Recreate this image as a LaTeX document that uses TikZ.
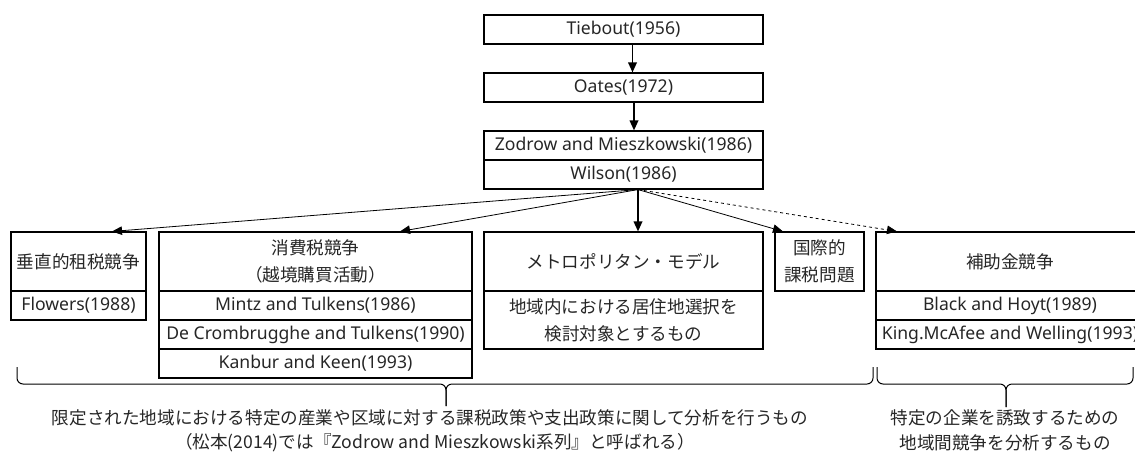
\documentclass[tikz,border=0pt]{standalone}
\usepackage{fontspec}
\setmainfont{Noto Sans}
\newfontfamily\jp{Noto Sans CJK JP}
\usetikzlibrary{arrows.meta}
\begin{document}
\begin{tikzpicture}[x=1pt,y=-1pt,
  cell/.style={draw, line width=1.1pt, rectangle, inner sep=0pt, align=center,
    font=\fontsize{17.6}{27}\selectfont, text=black!85},
  txt/.style={inner sep=0pt, align=center, font=\fontsize{17.6}{25}\selectfont, text=black!85},
  arr/.style={-{Triangle[length=10pt,width=8.5pt]}, line width=0.8pt},
  arrb/.style={-{Triangle[length=10pt,width=8.5pt]}, line width=1.8pt},
  brace/.style={line width=1pt, rounded corners=6pt}
]
\useasboundingbox (0,0) rectangle (1135,456);
\clip (0,0) rectangle (1135,456);
% top chain
\node[cell, minimum width=279pt, minimum height=29pt] (tie) at (623.5,29.5) {Tiebout(1956)};
\node[cell, minimum width=279pt, minimum height=29pt] (oat) at (623.5,87.5) {Oates(1972)};
\node[cell, minimum width=279pt, minimum height=29pt] (zod) at (623.5,145.5) {Zodrow and Mieszkowski(1986)};
\node[cell, minimum width=279pt, minimum height=29pt] (wil) at (623.5,174.5) {Wilson(1986)};
% vertical tax competition
\node[cell, minimum width=135pt, minimum height=59pt] (ver) at (78.5,261.5) {\jp 垂直的租税競争};
\node[cell, minimum width=135pt, minimum height=29pt] (flo) at (78.5,305.5) {Flowers(1988)};
% consumption tax
\node[cell, minimum width=313pt, minimum height=59pt] (con) at (315.5,261.5) {\jp 消費税競争\\\jp （越境購買活動）};
\node[cell, minimum width=313pt, minimum height=29pt] (min) at (315.5,305.5) {Mintz and Tulkens(1986)};
\node[cell, minimum width=313pt, minimum height=29pt] (dec) at (315.5,334.5) {De Crombrugghe and Tulkens(1990)};
\node[cell, minimum width=313pt, minimum height=29pt] (kan) at (315.5,363.5) {Kanbur and Keen(1993)};
% metropolitan
\node[cell, minimum width=279pt, minimum height=59pt] (met) at (623.5,261.5) {\jp メトロポリタン・モデル};
\node[cell, minimum width=279pt, minimum height=58pt] (mde) at (623.5,320) {\jp 地域内における居住地選択を\\\jp 検討対象とするもの};
% international
\node[cell, minimum width=89pt, minimum height=59pt] (kok) at (819.5,261.5) {\jp 国際的\\\jp 課税問題};
% subsidy
\node[cell, minimum width=268pt, minimum height=59pt] (hoj) at (1010,261.5) {\jp 補助金競争};
\node[cell, minimum width=268pt, minimum height=29pt] (bla) at (1010,305.5) {Black and Hoyt(1989)};
\node[cell, minimum width=268pt, minimum height=29pt] (kin) at (1010,334.5) {King.McAfee and Welling(1993)};
% arrows
\draw[arrb] ([xshift=9pt]tie.south) -- ([xshift=9pt]oat.north);
\draw[arrb] ([xshift=10.5pt]oat.south) -- ([xshift=10.5pt]zod.north);
\draw[arrb] ([xshift=14.5pt]wil.south) -- ([xshift=14.5pt]met.north);
\draw[arr] ([xshift=14.5pt]wil.south) -- ([xshift=33.5pt]ver.north);
\draw[arr] ([xshift=14.5pt]wil.south) -- ([xshift=84.5pt]con.north);
\draw[arr] ([xshift=14.5pt]wil.south) -- ([xshift=-36.5pt]kok.north);
\draw[arr, dashed] ([xshift=14.5pt]wil.south) -- ([xshift=-113pt]hoj.north);
% braces
\draw[brace] (17,367) -- (17,384) -- (446,384) -- (446,406);
\draw[brace] (873,367) -- (873,384) -- (446,384) -- (446,406);
\draw[brace] (877,367) -- (877,384) -- (1006,384) -- (1006,407);
\draw[brace] (1133,367) -- (1133,384) -- (1006,384) -- (1006,407);
% bottom texts
\node[txt] (lt1) at (430,418) {\jp 限定された地域における特定の産業や区域に対する課税政策や支出政策に関して分析を行うもの};
\node[txt] (lt2) at (435,443) {\jp （松本(2014)では『Zodrow and Mieszkowski系列』と呼ばれる）};
\node[txt] (rt1) at (1005,418) {\jp 特定の企業を誘致するための};
\node[txt] (rt2) at (1005,443) {\jp 地域間競争を分析するもの};
\end{tikzpicture}
\end{document}
